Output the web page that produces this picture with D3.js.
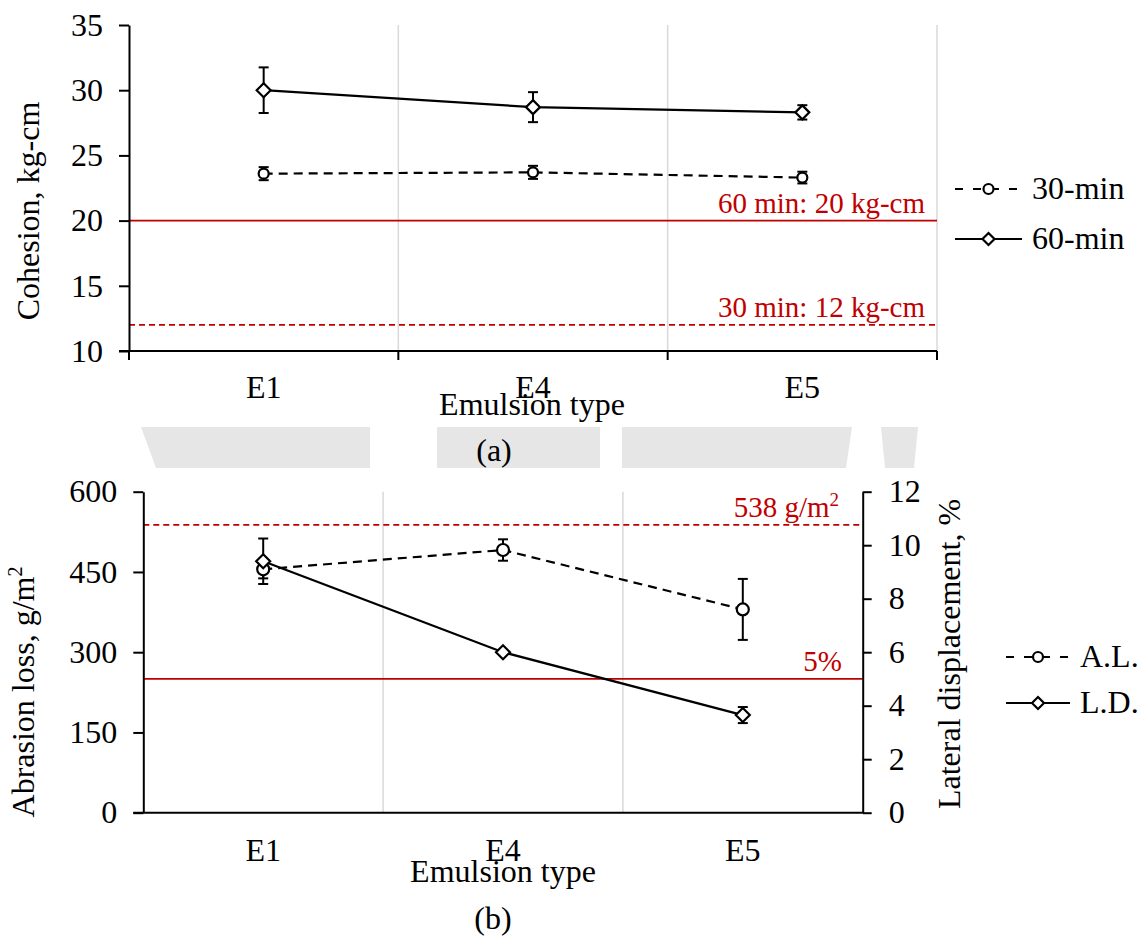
<!DOCTYPE html>
<html>
<head>
<meta charset="utf-8">
<script src="https://cdn.jsdelivr.net/npm/d3@7"></script>
<style>
  body { margin: 0; background: #fff; }
  svg text { font-family: "Liberation Serif", "Times New Roman", serif; fill: #000; }
  .axis .domain { stroke: #000; stroke-width: 2; }
  .axis line { stroke: #000; stroke-width: 2; }
  .axis text { font-size: 32px; }
</style>
</head>
<body>
<div id="chart"></div>
<script>
// emulsion types along the bottom
const categories = ['E1', 'E4', 'E5'];

// (a) cohesion, kg-cm
const cohesion30 = [23.6, 23.7, 23.3];
const cohesion30Err = [0.5, 0.5, 0.45];
const cohesion60 = [30.0, 28.7, 28.3];
const cohesion60Err = [1.75, 1.15, 0.55];
const cohesionTicks = [10, 15, 20, 25, 30, 35];
const cohesionLimits = [{v: 20, label: '60 min: 20 kg-cm', dash: false},
                        {v: 12, label: '30 min: 12 kg-cm', dash: true}];

// (b) abrasion loss (left) and lateral displacement (right)
const abrasion = [455, 491, 380];
const abrasionErr = [17, 20, 57];
const lateral = [9.4, 6.0, 3.65];
const lateralErr = [0.85, 0, 0.3];
const abrasionTicks = [0, 150, 300, 450, 600];
const lateralTicks = [0, 2, 4, 6, 8, 10, 12];

const RED = '#c00000';
const GRID = '#d9d9d9';
const FS = '32px';

const svg = d3.select('#chart').append('svg')
  .attr('width', 1148)
  .attr('height', 937);

// faint watermark band behind the "(a)" caption
const wm = svg.append('g').attr('fill', '#e6e6e6');
[[[141, 427], [370, 427], [370, 468], [156, 468]],
 [[437, 427], [600, 427], [600, 468], [437, 468]],
 [[622, 427], [852, 427], [846, 468], [622, 468]],
 [[881, 427], [918, 427], [914, 468], [885, 468]]]
  .forEach(p => wm.append('polygon').attr('points', p.map(d => d.join(',')).join(' ')));

function marker(g, shape, cx, cy, r) {
  if (shape === 'circle') {
    g.append('circle').attr('cx', cx).attr('cy', cy).attr('r', r)
      .attr('fill', '#fff').attr('stroke', '#000').attr('stroke-width', 2.2);
  } else {
    let s = r + 1;
    g.append('path')
      .attr('d', `M${cx},${cy - s}L${cx + s},${cy}L${cx},${cy + s}L${cx - s},${cy}Z`)
      .attr('fill', '#fff').attr('stroke', '#000').attr('stroke-width', 2.2);
  }
}

function drawSeries(g, x, y, vals, errs, shape, dashed, r) {
  let cx = d => x(d) + x.bandwidth() / 2;
  let pts = categories.map((c, i) => [cx(c), y(vals[i])]);
  g.append('path')
    .attr('d', d3.line()(pts))
    .attr('fill', 'none')
    .attr('stroke', '#000')
    .attr('stroke-width', 2.2)
    .attr('stroke-dasharray', dashed ? '9,6' : null);
  categories.forEach((c, i) => {
    if (!errs[i]) return;
    let x0 = cx(c), y1 = y(vals[i] + errs[i]), y2 = y(vals[i] - errs[i]);
    let eb = g.append('g').attr('stroke', '#000').attr('stroke-width', 2);
    eb.append('line').attr('x1', x0).attr('x2', x0).attr('y1', y1).attr('y2', y2);
    eb.append('line').attr('x1', x0 - 5).attr('x2', x0 + 5).attr('y1', y1).attr('y2', y1);
    eb.append('line').attr('x1', x0 - 5).attr('x2', x0 + 5).attr('y1', y2).attr('y2', y2);
  });
  return pts;
}

function limitLine(g, x0, x1, yv, label, dash, labelX) {
  g.append('line')
    .attr('x1', x0).attr('x2', x1).attr('y1', yv).attr('y2', yv)
    .attr('stroke', RED).attr('stroke-width', 1.8)
    .attr('stroke-dasharray', dash ? '6,4' : null);
  let t = g.append('text')
    .attr('x', labelX).attr('y', yv - 8)
    .attr('text-anchor', 'end')
    .style('font-size', '29px')
    .style('fill', RED);
  return t.text(label);
}

function legendItem(g, x0, x1, yv, shape, dashed, label) {
  g.append('line')
    .attr('x1', x0).attr('x2', x1).attr('y1', yv).attr('y2', yv)
    .attr('stroke', '#000').attr('stroke-width', 2.2)
    .attr('stroke-dasharray', dashed ? '8,10' : null);
  marker(g, shape, (x0 + x1) / 2, yv, 5);
  g.append('text')
    .attr('x', x1 + 10).attr('y', yv + 10)
    .style('font-size', FS)
    .text(label);
}

// ---------------- (a) cohesion ----------------
{
  const L = 129, R = 937, T = 25, B = 351;
  const x = d3.scaleBand().domain(categories).range([L, R]);
  const y = d3.scaleLinear().domain([10, 35]).range([B, T]);
  const g = svg.append('g');

  // vertical gridlines at category boundaries
  categories.forEach(c => {
    let gx = x(c) + x.bandwidth();
    g.append('line').attr('x1', gx).attr('x2', gx).attr('y1', T).attr('y2', B)
      .attr('stroke', GRID).attr('stroke-width', 1.5);
  });

  cohesionLimits.forEach(d => limitLine(g, L, R, y(d.v), d.label, d.dash, 925));

  g.append('g').attr('class', 'axis')
    .attr('transform', `translate(${L},0)`)
    .call(d3.axisLeft(y).tickValues(cohesionTicks).tickSize(10).tickSizeOuter(0).tickPadding(16));

  // x axis: line, boundary ticks, centred labels
  g.append('line').attr('x1', L - 10).attr('x2', R).attr('y1', B).attr('y2', B)
    .attr('stroke', '#000').attr('stroke-width', 2);
  [L].concat(categories.map(c => x(c) + x.bandwidth())).forEach(tx => {
    g.append('line').attr('x1', tx).attr('x2', tx).attr('y1', B).attr('y2', B + 9)
      .attr('stroke', '#000').attr('stroke-width', 2);
  });
  categories.forEach(c => {
    g.append('text').attr('x', x(c) + x.bandwidth() / 2).attr('y', 398)
      .attr('text-anchor', 'middle').style('font-size', FS).text(c);
  });

  drawSeries(g, x, y, cohesion30, cohesion30Err, 'circle', true, 5);
  drawSeries(g, x, y, cohesion60, cohesion60Err, 'diamond', false, 6);
  categories.forEach((c, i) => {
    let cx = x(c) + x.bandwidth() / 2;
    marker(g, 'circle', cx, y(cohesion30[i]), 5);
    marker(g, 'diamond', cx, y(cohesion60[i]), 6);
  });

  g.append('text').attr('transform', 'translate(39,211) rotate(-90)')
    .attr('text-anchor', 'middle').style('font-size', FS).text('Cohesion, kg-cm');
  g.append('text').attr('x', 532).attr('y', 415)
    .attr('text-anchor', 'middle').style('font-size', FS).text('Emulsion type');
  g.append('text').attr('x', 494).attr('y', 461)
    .attr('text-anchor', 'middle').style('font-size', FS).text('(a)');

  legendItem(g, 955, 1022, 189, 'circle', true, '30-min');
  legendItem(g, 955, 1022, 239, 'diamond', false, '60-min');
}

// ---------------- (b) abrasion / lateral displacement ----------------
{
  const L = 143.3, R = 862.7, T = 491.7, B = 812.7;
  const x = d3.scaleBand().domain(categories).range([L, R]);
  const y = d3.scaleLinear().domain([0, 600]).range([B, T]);
  const y2 = d3.scaleLinear().domain([0, 12]).range([B, T]);
  const g = svg.append('g');

  categories.slice(0, -1).forEach(c => {
    let gx = x(c) + x.bandwidth();
    g.append('line').attr('x1', gx).attr('x2', gx).attr('y1', T).attr('y2', B)
      .attr('stroke', GRID).attr('stroke-width', 1.5);
  });

  limitLine(g, L, R, y(538), '538 g/m', true, 839)
    .append('tspan').attr('dy', -11).style('font-size', '19px').text('2');
  limitLine(g, L, R, y2(5), '5%', false, 842);

  g.append('g').attr('class', 'axis')
    .attr('transform', `translate(${L},0)`)
    .call(d3.axisLeft(y).tickValues(abrasionTicks).tickSize(10).tickSizeOuter(0).tickPadding(16));
  g.append('g').attr('class', 'axis')
    .attr('transform', `translate(${R},0)`)
    .call(d3.axisRight(y2).tickValues(lateralTicks).tickSize(9).tickSizeOuter(0).tickPadding(17));

  g.append('line').attr('x1', L - 10).attr('x2', R).attr('y1', B).attr('y2', B)
    .attr('stroke', '#000').attr('stroke-width', 2);
  categories.forEach(c => {
    g.append('text').attr('x', x(c) + x.bandwidth() / 2).attr('y', 861)
      .attr('text-anchor', 'middle').style('font-size', FS).text(c);
  });

  drawSeries(g, x, y, abrasion, abrasionErr, 'circle', true, 6);
  drawSeries(g, x, y2, lateral, lateralErr, 'diamond', false, 6);
  categories.forEach((c, i) => {
    let cx = x(c) + x.bandwidth() / 2;
    marker(g, 'circle', cx, y(abrasion[i]), 6);
    marker(g, 'diamond', cx, y2(lateral[i]), 6);
  });

  let yl = g.append('text').attr('transform', 'translate(34,692) rotate(-90)')
    .attr('text-anchor', 'middle').style('font-size', FS).text('Abrasion loss, g/m');
  yl.append('tspan').attr('dy', -12).style('font-size', '20px').text('2');
  g.append('text').attr('transform', 'translate(960,654) rotate(-90)')
    .attr('text-anchor', 'middle').style('font-size', FS).text('Lateral displacement, %');
  g.append('text').attr('x', 503).attr('y', 882)
    .attr('text-anchor', 'middle').style('font-size', FS).text('Emulsion type');
  g.append('text').attr('x', 493).attr('y', 929)
    .attr('text-anchor', 'middle').style('font-size', FS).text('(b)');

  legendItem(g, 1006, 1070, 657, 'circle', true, 'A.L.');
  legendItem(g, 1006, 1070, 703, 'diamond', false, 'L.D.');
}
</script>
</body>
</html>
